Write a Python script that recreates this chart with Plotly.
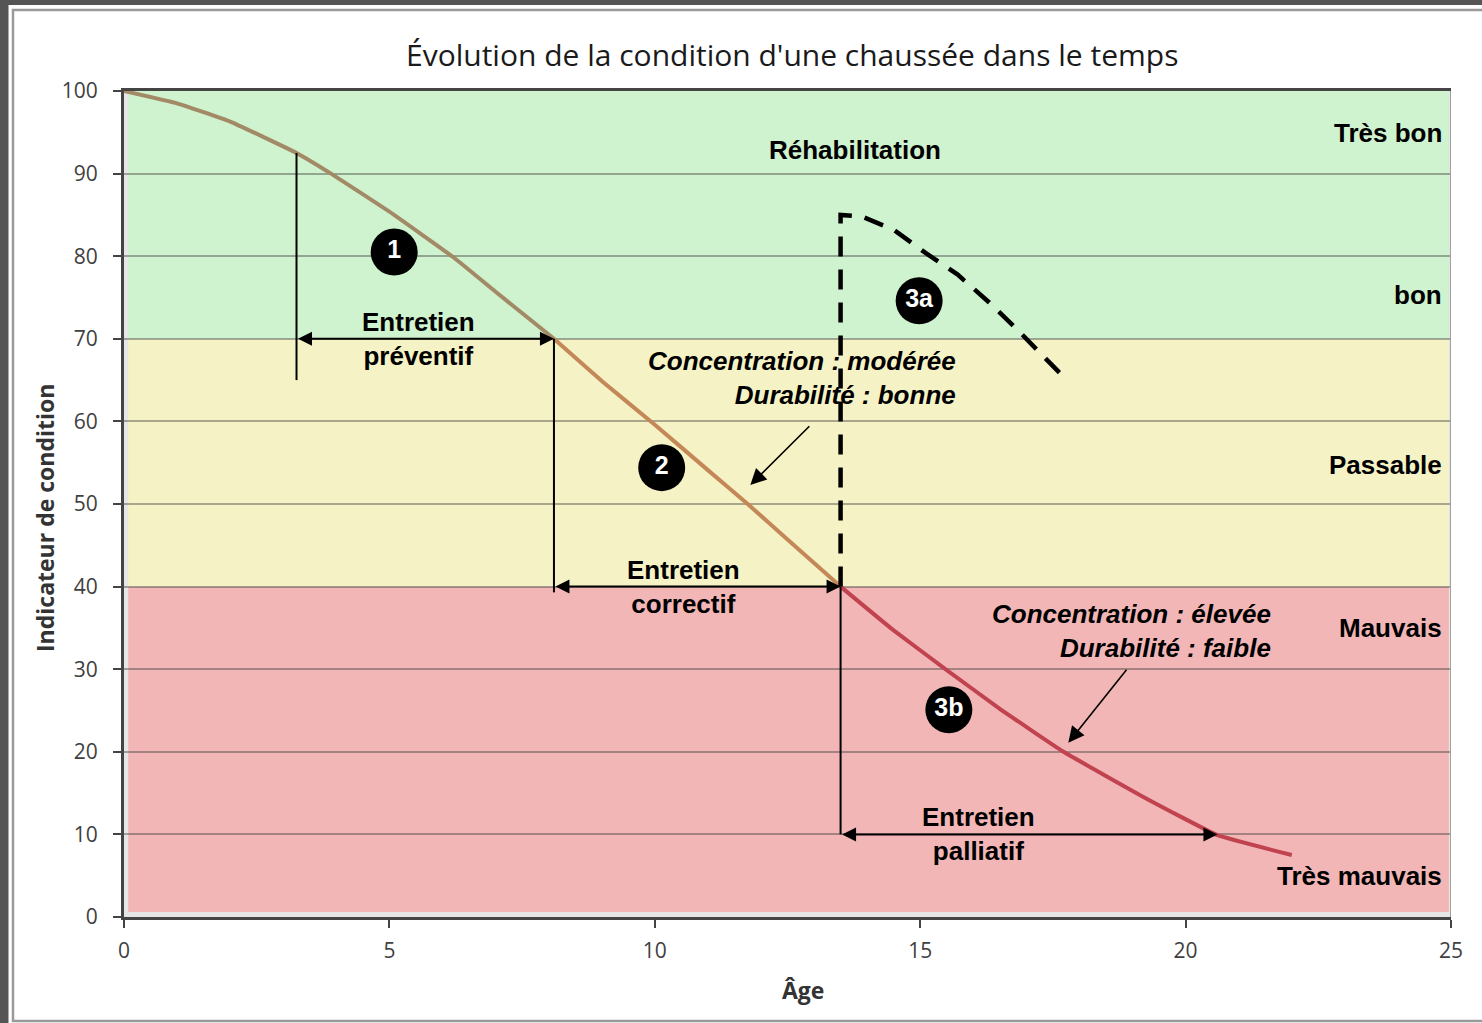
import plotly.graph_objects as go

# ---------------- data ----------------
age = [0, 1, 2, 3.25, 3.9, 5, 6.2, 7, 8.1, 9, 10, 11, 11.75, 12.5, 13.5,
       14.5, 15.5, 16.5, 17.7, 19.3, 20.6, 22]
condition = [100, 98.5, 96.3, 92.5, 90, 85.4, 79.9, 75.7, 70, 64.9, 59.6, 54.1,
             50, 45.7, 40, 34.7, 29.9, 25.2, 20, 14.2, 9.9, 7.5]

rehab_age = [13.5, 13.5, 13.9, 14.5, 15.1, 15.7, 16.3, 16.8, 17.7]
rehab_condition = [40, 85, 84.8, 83.2, 80.4, 77.8, 74.4, 71.3, 65.4]

band_lower = [0, 40, 70]
band_upper = [40, 70, 100]
band_colors = ["#F2B6B6", "#F5F3C5", "#CFF2CF"]
curve_colors = ["#C0434F", "#C48858", "#A38A66"]

zone_labels = ["Très bon", "bon", "Passable", "Mauvais", "Très mauvais"]
zone_label_levels = [94.9, 75.3, 54.7, 35.0, 5.0]

maintenance_labels = ["Entretien<br>préventif", "Entretien<br>correctif", "Entretien<br>palliatif"]
maintenance_start = [3.25, 8.1, 13.5]
maintenance_end = [8.1, 13.5, 20.6]
maintenance_level = [70, 40, 10]
maintenance_label_age = [5.54, 10.55, 16.09]

vertical_age = [3.25, 8.1, 13.5]
vertical_low = [65, 39.3, 10]
vertical_high = [92.5, 70, 40]

stage_labels = ["1", "2", "3a", "3b"]
stage_age = [5.09, 10.13, 14.98, 15.54]
stage_condition = [80.5, 54.4, 74.6, 25.1]

callout_texts = ["<i>Concentration : modérée</i><br><i>Durabilité : bonne</i>",
                 "<i>Concentration : élevée</i><br><i>Durabilité : faible</i>"]
callout_age = [15.71, 21.65]
callout_condition = [65.25, 34.6]
pointer_from_age = [12.94, 18.91]
pointer_from_condition = [59.6, 30.1]
pointer_to_age = [11.80, 17.79]
pointer_to_condition = [52.3, 21.1]

title_text = "Évolution de la condition d'une chaussée dans le temps"
x_title = "Âge"
y_title = "Indicateur de condition"
rehab_label = "Réhabilitation"
rehab_label_pos = (13.77, 92.9)

x_ticks = [0, 5, 10, 15, 20, 25]
y_ticks = [0, 10, 20, 30, 40, 50, 60, 70, 80, 90, 100]

# ---------------- geometry helpers ----------------
W, H = 1482, 1023
ML, MR, MT, MB = 124, 31, 91, 106
PW, PH = W - ML - MR, H - MT - MB


def px(xp):
    return (xp - ML) / PW


def py(yp):
    return (H - MB - yp) / PH


ANN_FONT = "Liberation Sans, Arial, sans-serif"
AX_FONT = "Open Sans, sans-serif"

fig = go.Figure()

# curve split by zone
segments = []
for lo, hi, col in zip(band_lower, band_upper, curve_colors):
    xs = [a for a, c in zip(age, condition) if lo <= c <= hi]
    ys = [c for c in condition if lo <= c <= hi]
    segments.append((xs, ys, col))
for xs, ys, col in reversed(segments):
    fig.add_trace(go.Scatter(x=xs, y=ys, mode="lines", line=dict(color=col, width=4, shape="spline", smoothing=0.3),
                             hoverinfo="skip", showlegend=False))

# rehabilitation dashed curve
fig.add_trace(go.Scatter(x=rehab_age, y=rehab_condition, mode="lines",
                         line=dict(color="black", width=4.5, dash="20px,13px"),
                         hoverinfo="skip", showlegend=False))

# vertical thin lines
for va, lo, hi in zip(vertical_age, vertical_low, vertical_high):
    fig.add_trace(go.Scatter(x=[va, va], y=[lo, hi], mode="lines", line=dict(color="black", width=2),
                             hoverinfo="skip", showlegend=False))

# stage circles
fig.add_trace(go.Scatter(x=stage_age, y=stage_condition, mode="markers+text", text=stage_labels,
                         textposition="middle center",
                         marker=dict(size=47, color="black"),
                         textfont=dict(family=ANN_FONT, size=25, color="white", weight="bold"),
                         hoverinfo="skip", showlegend=False))

shapes = []
# outer frame
shapes.append(dict(type="rect", xref="paper", yref="paper", x0=px(-10), x1=px(8.5), y0=py(1040), y1=py(-10),
                   fillcolor="#555555", line=dict(width=0), layer="below"))
shapes.append(dict(type="rect", xref="paper", yref="paper", x0=px(-10), x1=px(1500), y0=py(5), y1=py(-10),
                   fillcolor="#555555", line=dict(width=0), layer="below"))
shapes.append(dict(type="rect", xref="paper", yref="paper", x0=px(13), x1=px(1500), y0=py(1021), y1=py(10),
                   fillcolor="rgba(0,0,0,0)", line=dict(width=2.5, color="#9A9A9A"), layer="below"))
# bands
for lo, hi, col in zip(band_lower, band_upper, band_colors):
    shapes.append(dict(type="rect", xref="x", yref="y", x0=0.08, x1=24.96, y0=max(lo, 0.6), y1=hi,
                       fillcolor=col, line=dict(width=0), layer="below"))
# right border
shapes.append(dict(type="line", xref="x", yref="y", x0=25, x1=25, y0=0, y1=100,
                   line=dict(color="#A0A0A0", width=2), layer="above"))

annotations = []
# title & axis titles
annotations.append(dict(text=title_text, xref="paper", yref="paper", x=px(792), y=py(55), showarrow=False,
                        xanchor="center", yanchor="middle",
                        font=dict(family=AX_FONT, size=30, color="#1A1A1A")))
annotations.append(dict(text=x_title, xref="paper", yref="paper", x=px(803), y=py(990), showarrow=False,
                        xanchor="center", yanchor="middle",
                        font=dict(family=AX_FONT, size=23, color="#333333", weight="bold")))
annotations.append(dict(text=y_title, xref="paper", yref="paper", x=px(45), y=py(518), showarrow=False,
                        xanchor="center", yanchor="middle", textangle=-90,
                        font=dict(family=AX_FONT, size=23, color="#333333", weight="bold")))

bold = dict(family=ANN_FONT, size=26, color="black", weight="bold")

# zone labels
for lab, lv in zip(zone_labels, zone_label_levels):
    annotations.append(dict(text=lab, x=24.87, y=lv, xref="x", yref="y", showarrow=False,
                            xanchor="right", yanchor="middle", font=bold))

annotations.append(dict(text=rehab_label, x=rehab_label_pos[0], y=rehab_label_pos[1], xref="x", yref="y",
                        showarrow=False, xanchor="center", yanchor="middle", font=bold))

# maintenance arrows + labels
for lab, s, e, lv, la in zip(maintenance_labels, maintenance_start, maintenance_end, maintenance_level,
                             maintenance_label_age):
    annotations.append(dict(x=e, y=lv, ax=s, ay=lv, xref="x", yref="y", axref="x", ayref="y", text="",
                            showarrow=True, arrowhead=2, arrowside="end+start", arrowsize=1.4, arrowwidth=2,
                            arrowcolor="black", standoff=0, startstandoff=0))
    annotations.append(dict(text=lab, x=la, y=lv, xref="x", yref="y", showarrow=False,
                            xanchor="center", yanchor="middle", font=bold))

# callouts
for t, cx, cy, fx, fy, tx, ty in zip(callout_texts, callout_age, callout_condition, pointer_from_age,
                                     pointer_from_condition, pointer_to_age, pointer_to_condition):
    annotations.append(dict(text=t, x=cx, y=cy, xref="x", yref="y", showarrow=False, align="right",
                            xanchor="right", yanchor="middle", font=bold))
    annotations.append(dict(x=tx, y=ty, ax=fx, ay=fy, xref="x", yref="y", axref="x", ayref="y", text="",
                            showarrow=True, arrowhead=2, arrowsize=2, arrowwidth=1.6, arrowcolor="black",
                            standoff=0))

fig.update_layout(
    width=W, height=H,
    margin=dict(l=ML, r=MR, t=MT, b=MB, pad=0),
    paper_bgcolor="white",
    plot_bgcolor="#E6E6E6",
    shapes=shapes,
    annotations=annotations,
    showlegend=False,
    xaxis=dict(range=[0, 25], tickvals=x_ticks, showgrid=False, zeroline=False,
               showline=True, linecolor="#444444", linewidth=3, mirror=True,
               ticks="outside", ticklen=8, tickwidth=2, tickcolor="#444444",
               ticklabelstandoff=5,
               tickfont=dict(family=AX_FONT, size=21, color="#404040")),
    yaxis=dict(range=[0, 100], tickvals=y_ticks, showgrid=True, gridcolor="rgba(60,60,60,0.42)", gridwidth=2,
               zeroline=False, showline=True, linecolor="#444444", linewidth=3,
               ticks="outside", ticklen=8, tickwidth=2, tickcolor="#444444",
               ticklabelstandoff=11,
               tickfont=dict(family=AX_FONT, size=21, color="#404040")),
)

fig.write_html("out.html", post_script="document.body.style.margin='0';",
               config={"displayModeBar": False})
